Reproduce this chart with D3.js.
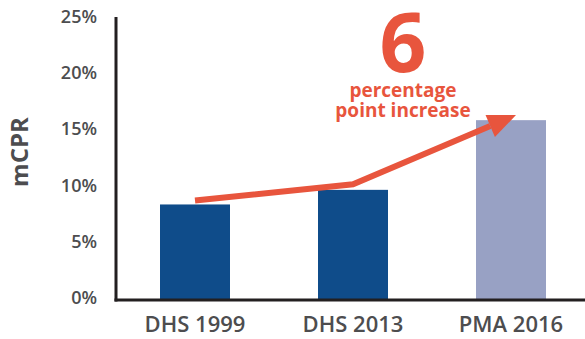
<!DOCTYPE html>
<html><head><meta charset="utf-8">
<script src="https://cdn.jsdelivr.net/npm/d3@7"></script>
<style>
html,body{margin:0;padding:0;background:#fff;}
svg{display:block;font-family:"Open Sans",sans-serif;}
</style></head>
<body>
<svg id="chart" width="585" height="339"></svg>
<script>
const categories = ["DHS 1999", "DHS 2013", "PMA 2016"];
const values = [8.5, 9.8, 16.0];
const barColors = ["#0f4c8a", "#0f4c8a", "#98a1c4"];
const yTicks = [0, 5, 10, 15, 20, 25];
const annotationNumber = "6";
const annotationLines = ["percentage", "point increase"];

const svg = d3.select("#chart");
const x0 = 116, yBase = 300, yTop = 19;
const x = d3.scaleBand().domain(categories).range([x0, x0 + 3 * 158]).paddingInner(0.557).paddingOuter(0.2785);
const y = d3.scaleLinear().domain([0, 25]).range([yBase, yTop]);

// bars
svg.selectAll("rect.bar").data(values).enter().append("rect")
  .attr("class", "bar")
  .attr("x", (d, i) => x(categories[i]))
  .attr("width", x.bandwidth())
  .attr("y", d => y(d))
  .attr("height", d => yBase - y(d))
  .attr("fill", (d, i) => barColors[i]);

// axes lines
svg.append("line").attr("x1", x0).attr("x2", x0).attr("y1", yTop - 2).attr("y2", yBase + 1.5)
  .attr("stroke", "#231f20").attr("stroke-width", 3);
svg.append("line").attr("x1", x0 - 1.5).attr("x2", 585).attr("y1", yBase).attr("y2", yBase)
  .attr("stroke", "#231f20").attr("stroke-width", 3);

// y tick labels
svg.selectAll("text.ytick").data(yTicks).enter().append("text")
  .attr("class", "ytick")
  .attr("x", 97).attr("y", d => y(d) - 3)
  .attr("text-anchor", "end").attr("dominant-baseline", "central")
  .attr("font-size", 18).attr("font-weight", 600).attr("fill", "#4d4d4f")
  .text(d => d + "%");

// x labels
svg.selectAll("text.xlab").data(categories).enter().append("text")
  .attr("class", "xlab")
  .attr("x", d => x(d) + x.bandwidth() / 2).attr("y", 332)
  .attr("text-anchor", "middle")
  .attr("font-size", 22).attr("font-weight", 600).attr("fill", "#4d4d4f")
  .text(d => d);

// y axis title
svg.append("text")
  .attr("transform", "translate(28,152) rotate(-90)")
  .attr("text-anchor", "middle")
  .attr("font-size", 24).attr("font-weight", 700).attr("fill", "#4d4d4f")
  .text("mCPR");

// arrow annotation
const red = "#e8553d";
const cx = i => x(categories[i]) + x.bandwidth() / 2;
const p0 = [cx(0), y(values[0] + 0.35)];
const p1 = [cx(1), y(values[1] + 0.5)];
const tip = [cx(2) + 5, y(values[2] + 0.45)];
const ang = Math.atan2(tip[1] - p1[1], tip[0] - p1[0]);
const headLen = 28, headW = 12;
const base = [tip[0] - headLen * Math.cos(ang), tip[1] - headLen * Math.sin(ang)];
svg.append("path")
  .attr("d", d3.line()([p0, p1, base]))
  .attr("fill", "none").attr("stroke", red).attr("stroke-width", 6).attr("stroke-linejoin", "miter");
const nx = -Math.sin(ang), ny = Math.cos(ang);
svg.append("path")
  .attr("d", d3.line()([tip, [base[0] + nx * headW, base[1] + ny * headW], [base[0] - nx * headW, base[1] - ny * headW]]) + "Z")
  .attr("fill", red);

svg.append("text").attr("x", 403).attr("y", 72).attr("text-anchor", "middle")
  .attr("font-size", 82).attr("font-weight", 700).attr("fill", red).text(annotationNumber);
svg.selectAll("text.ann").data(annotationLines).enter().append("text")
  .attr("class", "ann")
  .attr("x", 403).attr("y", (d, i) => 97 + i * 20)
  .attr("text-anchor", "middle")
  .attr("font-size", 19).attr("font-weight", 700).attr("fill", red)
  .text(d => d);
</script>
</body></html>
